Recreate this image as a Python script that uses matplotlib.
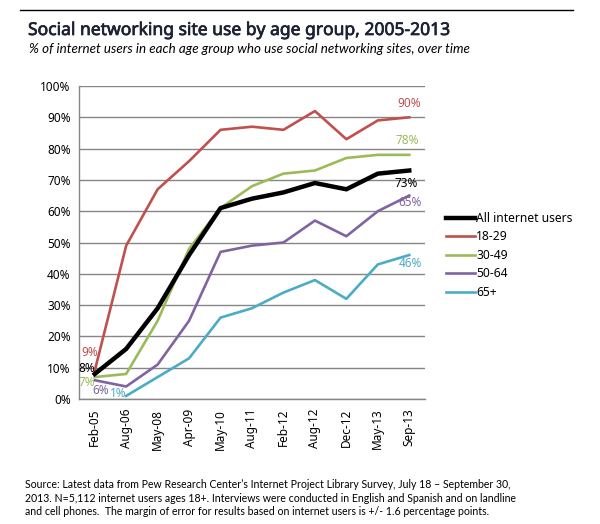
import matplotlib
matplotlib.use("Agg")
import matplotlib.pyplot as plt
import matplotlib.patheffects as pe
import numpy as np
from matplotlib.lines import Line2D

dates = ["Feb-05", "Aug-06", "May-08", "Apr-09", "May-10", "Aug-11",
         "Feb-12", "Aug-12", "Dec-12", "May-13", "Sep-13"]
all_users = [8, 16, 29, 46, 61, 64, 66, 69, 67, 72, 73]
age_18_29 = [9, 49, 67, 76, 86, 87, 86, 92, 83, 89, 90]
age_30_49 = [7, 8, 25, 48, 61, 68, 72, 73, 77, 78, 78]
age_50_64 = [6, 4, 11, 25, 47, 49, 50, 57, 52, 60, 65]
age_65_up = [np.nan, 1, 7, 13, 26, 29, 34, 38, 32, 43, 46]

RED = "#C0504D"
GREEN = "#9BBB59"
PURPLE = "#8064A2"
CYAN = "#4BACC6"

tick_font = "Noto Sans"

fig = plt.figure(figsize=(6, 5.24), dpi=100)
ax = fig.add_axes([79/600, 1-399/524, (425-79)/600, (399-86)/524])

x = np.arange(len(dates))
ax.plot(x, age_18_29, color=RED, lw=1.9, zorder=3)
ax.plot(x, age_30_49, color=GREEN, lw=1.9, zorder=3)
ax.plot(x, age_50_64, color=PURPLE, lw=1.9, zorder=3)
ax.plot(x, age_65_up, color=CYAN, lw=1.9, zorder=3)
ax.plot(x, all_users, color="black", lw=3.2, zorder=4)

ax.set_xlim(-0.5, len(dates) - 0.5)
ax.set_ylim(0, 100)
ax.set_yticks(range(0, 101, 10))
ax.set_yticklabels([f"{v}%" for v in range(0, 101, 10)], fontfamily=tick_font, fontsize=8.5)
ax.set_xticks(x)
ax.set_xticklabels(dates, rotation=90, fontfamily=tick_font, fontsize=8.5)
ax.tick_params(axis="both", length=0, pad=6)
ax.tick_params(axis="x", pad=7)
ax.grid(axis="y", color="#868686", lw=1)
ax.set_axisbelow(True)
for s in ["top", "right"]:
    ax.spines[s].set_visible(False)
for s in ["left", "bottom"]:
    ax.spines[s].set_color("#868686")
    ax.spines[s].set_linewidth(1)

# end labels (offsets in pixels from the data point)
def lab(series, i, color, dx, dy):
    ax.annotate(f"{series[i]}%", (x[i], series[i]), xytext=(dx, dy),
                textcoords="offset pixels", ha="center", va="center",
                color=color, fontfamily=tick_font, fontsize=8.5, zorder=5)

last = len(dates) - 1
lab(age_18_29, last, RED, 0, 14)
lab(age_30_49, last, GREEN, -2, 14)
lab(all_users, last, "black", -3, -13)
lab(age_50_64, last, PURPLE, 1, -7)
lab(age_65_up, last, CYAN, 1, -8)

lab(age_18_29, 0, RED, -5, 18)
lab(all_users, 0, "black", -8, 5)
lab(age_30_49, 0, GREEN, -8, -5)
lab(age_50_64, 0, PURPLE, 6, -10)
lab(age_65_up, 1, CYAN, -8, 2)

handles = [Line2D([], [], color="black", lw=3.2),
           Line2D([], [], color=RED, lw=1.9),
           Line2D([], [], color=GREEN, lw=1.9),
           Line2D([], [], color=PURPLE, lw=1.9),
           Line2D([], [], color=CYAN, lw=1.9)]
names = ["All internet users", "18-29", "30-49", "50-64", "65+"]
fig.legend(handles, names, loc="upper left", bbox_to_anchor=(440/600, 1-206/524),
           frameon=False, prop={"family": tick_font, "size": 8.7},
           handlelength=2.4, handletextpad=0.1, labelspacing=0.45, borderpad=0)

# header
fig.add_artist(Line2D([20/600, 573/600], [1-10/524, 1-10/524], color="black", lw=1))
title = fig.text(28/600, 1-30/524, "Social networking site use by age group, 2005-2013",
                 fontfamily="Noto Sans", fontsize=12.6, color="#1A2233", va="center")
title.set_path_effects([pe.withStroke(linewidth=0.5, foreground="#1A2233")])
fig.text(29/600, 1-49/524,
         "% of internet users in each age group who use social networking sites, over time",
         fontfamily="Lato", style="italic", fontsize=9.6, color="black", va="center")

foot = ("Source: Latest data from Pew Research Center\u2019s Internet Project Library Survey, July 18 \u2013 September 30,\n"
        "2013. N=5,112 internet users ages 18+. Interviews were conducted in English and Spanish and on landline\n"
        "and cell phones.  The margin of error for results based on internet users is +/- 1.6 percentage points.")
fig.text(25/600, 1-479/524, foot, fontfamily="Lato", fontsize=7.6, color="black",
         va="top", linespacing=1.3)

fig.savefig("out.png", dpi=100)
